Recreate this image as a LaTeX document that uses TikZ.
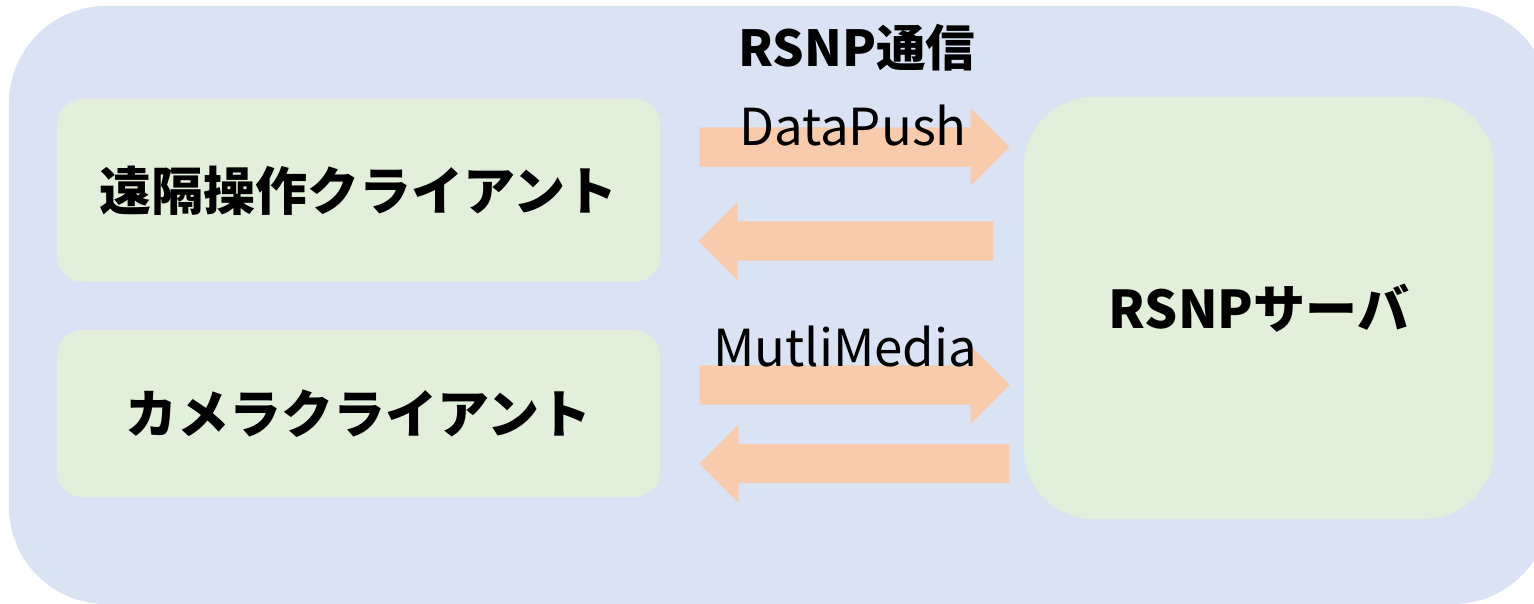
\documentclass[tikz,border=0pt]{standalone}
\usepackage{fontspec}
\setmainfont{Noto Sans CJK JP}
\usetikzlibrary{shapes.arrows,positioning}
\definecolor{bgblue}{HTML}{DAE3F3}
\definecolor{boxgreen}{HTML}{E2EFDA}
\definecolor{flowpeach}{HTML}{F8CBAD}

\begin{document}
\begin{tikzpicture}[scale=1.0,
    client/.style={rectangle,rounded corners=0.26cm,fill=boxgreen,inner sep=0pt,
      font=\fontsize{14.8}{18}\selectfont\bfseries},
    flow/.style={single arrow,fill=flowpeach,inner xsep=0pt,inner ysep=0.19cm,minimum height=3.10cm,
      minimum width=0.77cm,single arrow head extend=0.195cm,single arrow head indent=0pt,anchor=tail},
    flowlabel/.style={anchor=base,font=\fontsize{14.5}{17}\selectfont}]
    \useasboundingbox (0,0) rectangle (15.34,-6.04);
    % Hintergrund: RSNP-Kommunikation
    \fill[bgblue,rounded corners=0.97cm] (0.09,-0.06) rectangle (15.50,-6.04);
    \node[anchor=base,font=\fontsize{14.1}{17}\selectfont\bfseries] (title) at (8.57,-0.67) {RSNP通信};
    % Clients links, Server rechts
    \node[client,minimum width=6.03cm,minimum height=1.83cm] (remote) at (3.585,-1.905) {遠隔操作クライアント};
    \node[client,minimum width=6.03cm,minimum height=1.67cm] (camera) at (3.585,-4.135) {カメラクライアント};
    \node[client,rounded corners=0.70cm,minimum width=4.70cm,minimum height=4.22cm] (server) at (12.59,-3.08) {RSNPサーバ};
    % Datenfluss hin und zurueck
    \node[flow] (pushto) at (6.99,-1.47) {};
    \node[flow,shape border rotate=180,minimum height=2.95cm] (pushback) at (9.94,-2.41) {};
    \node[flow] (mediato) at (6.99,-3.85) {};
    \node[flow,shape border rotate=180] (mediaback) at (10.10,-4.635) {};
    \node[flowlabel] (pushlabel) at (8.53,-1.46) {DataPush};
    \node[flowlabel] (medialabel) at (8.45,-3.66) {MutliMedia};
  \end{tikzpicture}
\end{document}
